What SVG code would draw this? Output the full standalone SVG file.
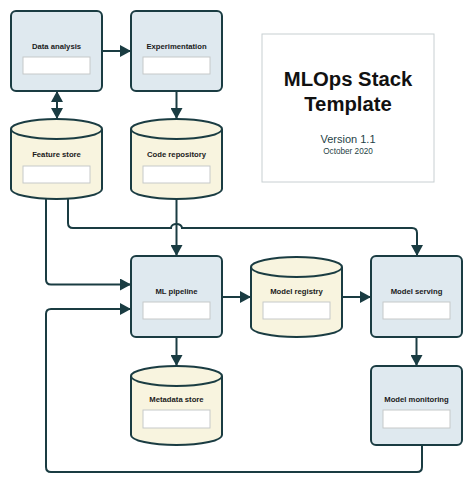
<svg xmlns="http://www.w3.org/2000/svg" width="474" height="485" viewBox="0 0 474 485">
<defs>
<style>
.box{fill:#dfe9ef;stroke:#1a3c42;stroke-width:2}
.cyl{fill:#f8f4df;stroke:#1a3c42;stroke-width:2}
.cap{fill:none;stroke:#1a3c42;stroke-width:2}
.inp{fill:#ffffff;stroke:#c6c9c9;stroke-width:1}
.lbl{font-family:"Liberation Sans",Arial,sans-serif;font-weight:bold;font-size:7.7px;fill:#1b1b1b;text-anchor:middle}
.con{fill:none;stroke:#1a3c42;stroke-width:2}
</style>
<marker id="ah" markerUnits="userSpaceOnUse" viewBox="0 0 11 12" refX="11" refY="6" markerWidth="11" markerHeight="12" orient="auto-start-reverse">
<path d="M0,0 L11,6 L0,12 Z" fill="#1a3c42"/>
</marker>
</defs>
<rect width="474" height="485" fill="#ffffff"/>

<g id="connectors">
<path class="con" d="M102,51 L131,51" marker-end="url(#ah)"/>
<path class="con" d="M57,91 L57,119" marker-start="url(#ah)" marker-end="url(#ah)"/>
<path class="con" d="M176.5,91 L176.5,119" marker-end="url(#ah)"/>
<path class="con" d="M46,199 L46,279.5 Q46,284.5 51,284.5 L131,284.5" marker-end="url(#ah)"/>
<path class="con" d="M68,199 L68,223 Q68,228 73,228 L171,228 A5.5,4 0 0 1 182,228 L412,228 Q417,228 417,233 L417,256" marker-end="url(#ah)"/>
<path class="con" d="M176.5,199 L176.5,256" marker-end="url(#ah)"/>
<path class="con" d="M222,297 L251,297" marker-end="url(#ah)"/>
<path class="con" d="M342,297 L371,297" marker-end="url(#ah)"/>
<path class="con" d="M176.5,337 L176.5,366" marker-end="url(#ah)"/>
<path class="con" d="M416.5,337 L416.5,366" marker-end="url(#ah)"/>
<path class="con" d="M422,445 L422,467 Q422,472 417,472 L51,472 Q46,472 46,467 L46,314 Q46,309 51,309 L131,309" marker-end="url(#ah)"/>
</g>

<g id="title">
<rect x="262" y="34" width="172" height="148" fill="#ffffff" stroke="#c8cfd2" stroke-width="1"/>
<text x="348" y="86" font-family="'Liberation Sans',Arial,sans-serif" font-weight="bold" font-size="20.3" fill="#111111" text-anchor="middle">MLOps Stack</text>
<text x="348" y="111" font-family="'Liberation Sans',Arial,sans-serif" font-weight="bold" font-size="20.3" fill="#111111" text-anchor="middle">Template</text>
<text x="348" y="143" font-family="'Liberation Sans',Arial,sans-serif" font-size="11" fill="#1f3f46" text-anchor="middle">Version 1.1</text>
<text x="348" y="154" font-family="'Liberation Sans',Arial,sans-serif" font-size="8.2" fill="#1f3f46" text-anchor="middle">October 2020</text>
</g>

<g id="data-analysis">
<rect class="box" x="11" y="11" width="91" height="80" rx="5"/>
<text class="lbl" x="56.5" y="48.5">Data analysis</text>
<rect class="inp" x="23" y="57" width="67" height="17"/>
</g>

<g id="experimentation">
<rect class="box" x="131" y="11" width="91" height="80" rx="5"/>
<text class="lbl" x="176.5" y="48.5">Experimentation</text>
<rect class="inp" x="143" y="57" width="67" height="17"/>
</g>

<g id="feature-store">
<path class="cyl" d="M11,129 A45.5,10 0 0 1 102,129 L102,189 A45.5,10 0 0 1 11,189 Z"/>
<path class="cap" d="M11,129 A45.5,10 0 0 0 102,129"/>
<text class="lbl" x="56.5" y="157">Feature store</text>
<rect class="inp" x="23" y="166" width="67" height="17"/>
</g>

<g id="code-repository">
<path class="cyl" d="M131,129 A45.5,10 0 0 1 222,129 L222,189 A45.5,10 0 0 1 131,189 Z"/>
<path class="cap" d="M131,129 A45.5,10 0 0 0 222,129"/>
<text class="lbl" x="176.5" y="157">Code repository</text>
<rect class="inp" x="143" y="166" width="67" height="17"/>
</g>

<g id="ml-pipeline">
<rect class="box" x="131" y="256" width="91" height="81" rx="5"/>
<text class="lbl" x="176.5" y="293.5">ML pipeline</text>
<rect class="inp" x="143" y="302" width="67" height="17"/>
</g>

<g id="model-registry">
<path class="cyl" d="M251,267 A45.5,10 0 0 1 342,267 L342,327 A45.5,10 0 0 1 251,327 Z"/>
<path class="cap" d="M251,267 A45.5,10 0 0 0 342,267"/>
<text class="lbl" x="296.5" y="293.5">Model registry</text>
<rect class="inp" x="263" y="302" width="67" height="17"/>
</g>

<g id="model-serving">
<rect class="box" x="371" y="256" width="91" height="81" rx="5"/>
<text class="lbl" x="416.5" y="293.5">Model serving</text>
<rect class="inp" x="383" y="302" width="67" height="17"/>
</g>

<g id="metadata-store">
<path class="cyl" d="M131,376 A45.5,10 0 0 1 222,376 L222,435 A45.5,10 0 0 1 131,435 Z"/>
<path class="cap" d="M131,376 A45.5,10 0 0 0 222,376"/>
<text class="lbl" x="176.5" y="402">Metadata store</text>
<rect class="inp" x="143" y="410" width="67" height="18"/>
</g>

<g id="model-monitoring">
<rect class="box" x="371" y="366" width="91" height="79" rx="5"/>
<text class="lbl" x="416.5" y="402">Model monitoring</text>
<rect class="inp" x="383" y="410" width="67" height="18"/>
</g>
</svg>
